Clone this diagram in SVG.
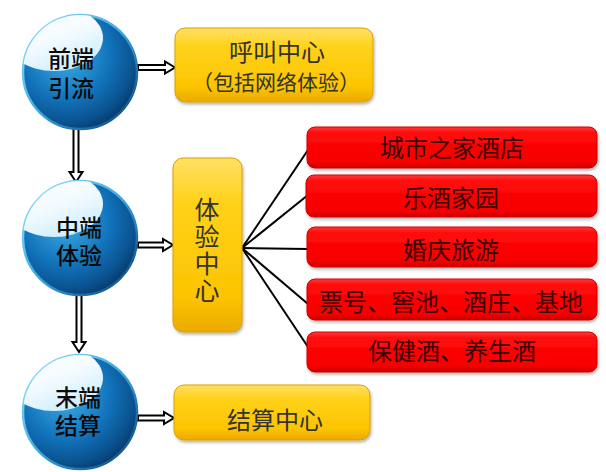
<svg xmlns="http://www.w3.org/2000/svg" width="606" height="472" viewBox="0 0 606 472">
<defs>
<radialGradient id="ball" cx="0.38" cy="0.35" r="0.7">
<stop offset="0" stop-color="#3fb0e8"/>
<stop offset="0.55" stop-color="#1273bb"/>
<stop offset="0.85" stop-color="#0a528f"/>
<stop offset="1" stop-color="#06386b"/>
</radialGradient>
<linearGradient id="rim" x1="0" y1="0" x2="1" y2="1">
<stop offset="0" stop-color="#9ee6ff"/>
<stop offset="0.5" stop-color="#3aa8e0"/>
<stop offset="1" stop-color="#0a3a70"/>
</linearGradient>
<linearGradient id="hl" x1="0" y1="0" x2="0.6" y2="1">
<stop offset="0" stop-color="#ffffff"/>
<stop offset="0.6" stop-color="#f4fbff"/>
<stop offset="1" stop-color="#cfeefc"/>
</linearGradient>
<linearGradient id="yel" x1="0" y1="0" x2="0" y2="1">
<stop offset="0" stop-color="#ffe066"/>
<stop offset="0.25" stop-color="#ffd21a"/>
<stop offset="0.8" stop-color="#fcc400"/>
<stop offset="1" stop-color="#eaa900"/>
</linearGradient>
<linearGradient id="red" x1="0" y1="0" x2="0" y2="1">
<stop offset="0" stop-color="#ff3a3a"/>
<stop offset="0.15" stop-color="#ff0a0a"/>
<stop offset="0.85" stop-color="#f80000"/>
<stop offset="1" stop-color="#c80000"/>
</linearGradient>
<clipPath id="c1"><circle cx="80" cy="72" r="57"/></clipPath>
<clipPath id="c2"><circle cx="80" cy="238" r="57"/></clipPath>
<clipPath id="c3"><circle cx="80" cy="412" r="57"/></clipPath>
<filter id="sh" x="-10%" y="-10%" width="130%" height="140%">
<feDropShadow dx="1" dy="2" stdDeviation="1.5" flood-color="#000" flood-opacity="0.3"/>
</filter>
</defs>
<style>
.ball{fill:url(#ball);stroke:url(#rim);stroke-width:2.5}
.hl{fill:url(#hl)}
.ybox{fill:url(#yel);stroke:#d9a200;stroke-width:1;filter:url(#sh)}
.rbox{fill:url(#red);stroke:#d00000;stroke-width:1;filter:url(#sh)}
.t{font-family:"Noto Sans CJK SC","Noto Sans CJK JP",sans-serif;text-anchor:middle}
.ct{font-size:23px;fill:#0a0a0a;font-weight:500}
.yt{fill:#333333}
.rt{font-size:24px;fill:#3a0000}
.arr{fill:#ffffff;stroke:#000000;stroke-width:2;stroke-linejoin:miter}
.fan{stroke:#000000;stroke-width:2;fill:none}
</style>

<g id="connectors">
<polygon class="arr" points="138,65 165,65 165,61.5 175,67.5 165,73.5 165,70 138,70"/>
<polygon class="arr" points="138,242.5 163,242.5 163,239 173,245 163,251 163,247.5 138,247.5"/>
<polygon class="arr" points="138,415.5 164,415.5 164,412 174,418 164,424 164,420.5 138,420.5"/>
<polygon class="arr" points="73.5,126 78.5,126 78.5,172 82.5,172 76,182 69.5,172 73.5,172"/>
<polygon class="arr" points="76.5,294 81.5,294 81.5,342 85.5,342 79,352 72.5,342 76.5,342"/>
<line class="fan" x1="242" y1="248" x2="310" y2="147"/>
<line class="fan" x1="242" y1="248" x2="308" y2="195"/>
<line class="fan" x1="242" y1="248" x2="308" y2="249"/>
<line class="fan" x1="242" y1="248" x2="308" y2="304"/>
<line class="fan" x1="242" y1="248" x2="310" y2="350"/>
</g>

<g id="node-front">
<circle class="ball" cx="80" cy="72" r="57"/>
<ellipse class="hl" cx="54" cy="38" rx="49" ry="33" clip-path="url(#c1)"/>
<text class="t ct" x="71" y="67">前端<tspan x="71" dy="30">引流</tspan></text>
</g>
<g id="node-mid">
<circle class="ball" cx="80" cy="238" r="57"/>
<ellipse class="hl" cx="54" cy="204" rx="49" ry="33" clip-path="url(#c2)"/>
<text class="t ct" x="79" y="236">中端<tspan x="79" dy="28">体验</tspan></text>
</g>
<g id="node-end">
<circle class="ball" cx="80" cy="412" r="57"/>
<ellipse class="hl" cx="54" cy="378" rx="49" ry="33" clip-path="url(#c3)"/>
<text class="t ct" x="78" y="406">末端<tspan x="78" dy="28">结算</tspan></text>
</g>

<g id="node-call">
<rect class="ybox" x="175" y="28" width="198" height="74" rx="10"/>
<text class="t yt" x="277" y="61" font-size="24">呼叫中心</text>
<text class="t yt" x="276" y="90" font-size="21" textLength="168" lengthAdjust="spacing">（包括网络体验）</text>
</g>
<g id="node-exp">
<rect class="ybox" x="173" y="158" width="69" height="174" rx="10"/>
<text class="t yt" x="207" y="251" font-size="25" letter-spacing="2" style="writing-mode:vertical-rl">体验中心</text>
</g>
<g id="node-settle">
<rect class="ybox" x="174" y="385" width="196" height="55" rx="10"/>
<text class="t yt" x="275" y="429" font-size="24">结算中心</text>
</g>

<g id="node-r1">
<rect class="rbox" x="307" y="127" width="290" height="41" rx="8"/>
<text class="t rt" x="452" y="157">城市之家酒店</text>
</g>
<g id="node-r2">
<rect class="rbox" x="306" y="175" width="291" height="42" rx="8"/>
<text class="t rt" x="451" y="207">乐酒家园</text>
</g>
<g id="node-r3">
<rect class="rbox" x="307" y="227" width="290" height="40" rx="8"/>
<text class="t rt" x="451" y="259">婚庆旅游</text>
</g>
<g id="node-r4">
<rect class="rbox" x="307" y="279" width="290" height="41" rx="8"/>
<text class="t rt" x="451" y="311">票号、窖池、酒庄、基地</text>
</g>
<g id="node-r5">
<rect class="rbox" x="307" y="332" width="290" height="40" rx="8"/>
<text class="t rt" x="452" y="360">保健酒、养生酒</text>
</g>
</svg>
